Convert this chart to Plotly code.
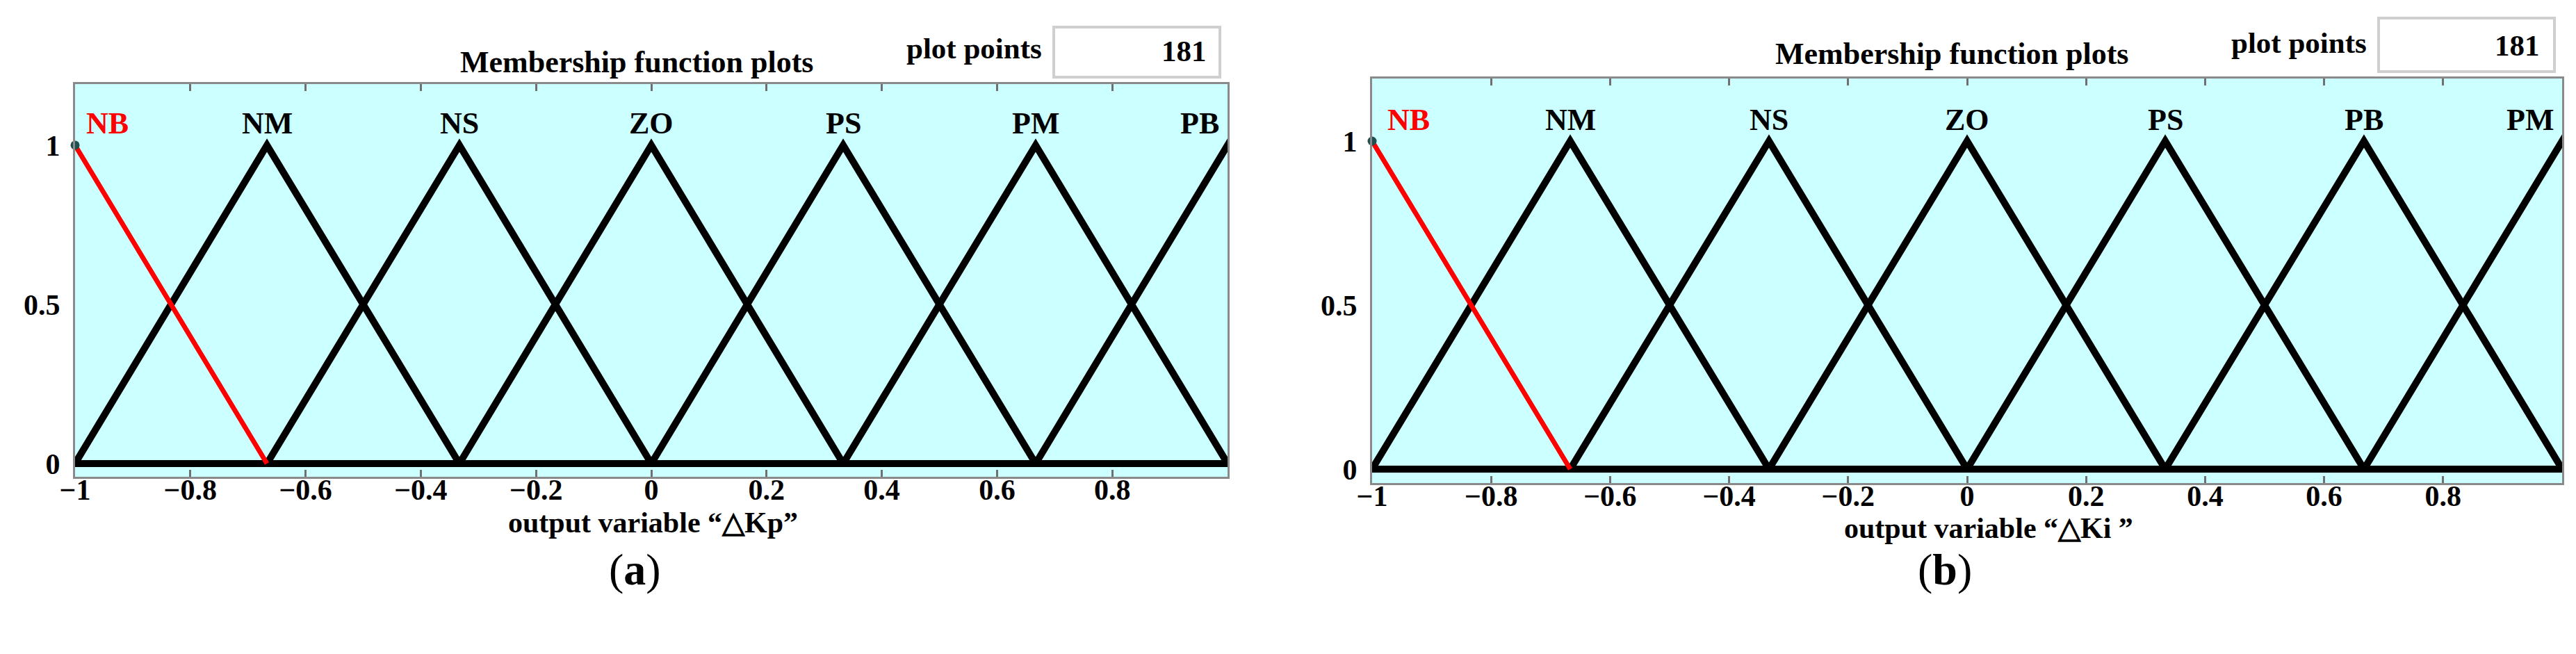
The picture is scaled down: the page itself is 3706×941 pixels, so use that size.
import plotly.graph_objects as go

W, H = 3706, 941

# trimf parameters [a, b, c] for the seven output membership functions
MF_PARAMS = [
    [-1.333, -1.0, -0.667],
    [-1.0, -0.667, -0.333],
    [-0.667, -0.333, 0.0],
    [-0.333, 0.0, 0.333],
    [0.0, 0.333, 0.667],
    [0.333, 0.667, 1.0],
    [0.667, 1.0, 1.333],
]
LABELS_KP = ["NB", "NM", "NS", "ZO", "PS", "PM", "PB"]
LABELS_KI = ["NB", "NM", "NS", "ZO", "PS", "PB", "PM"]
X_RANGE = [-1, 1]
X_TICKS = [-1, -0.8, -0.6, -0.4, -0.2, 0, 0.2, 0.4, 0.6, 0.8]
Y_TICKS = [0, 0.5, 1]
Y_TICKTEXT = ["0", "0.5", "1"]
PLOT_POINTS = 181

FONT = "Liberation Serif, Times New Roman, serif"
BG_CYAN = "#CCFFFF"
RED = "#FF0000"


def px(x):
    return x / W


def py(y):
    return 1 - y / H


def trimf_points(a, b, c):
    xs = sorted(set([X_RANGE[0], a, b, c, X_RANGE[1]]))
    ys = [max(min((x - a) / (b - a), (c - x) / (c - b)), 0.0) for x in xs]
    return xs, ys


# panel layout (pixel positions in the 3706x941 page)
PANELS = [
    dict(labels=LABELS_KP, xtitle="output variable “△Kp”", caption="(<b>a</b>)",
         left=100, right=1758, top=113, bottom=678, yrange=[-0.0415, 1.192],
         title_xy=(908, 82), pp_xy=(1393, 62), box=(1508, 31, 1747, 103), num_xy=(1730, 66),
         xtitle_xy=(931, 744), cap_xy=(905, 811), nb_shift=14, last_shift=-10),
    dict(labels=LABELS_KI, xtitle="output variable “△Ki ”", caption="(<b>b</b>)",
         left=1966, right=3678, top=105, bottom=687, yrange=[-0.0424, 1.1907],
         title_xy=(2800, 70), pp_xy=(3299, 54), box=(3414, 18, 3667, 95), num_xy=(3648, 57),
         xtitle_xy=(2853, 752), cap_xy=(2790, 811), nb_shift=20, last_shift=-10),
]

fig = go.Figure()
annotations = []
shapes = []

for i, p in enumerate(PANELS):
    xa = "x" if i == 0 else "x2"
    ya = "y" if i == 0 else "y2"
    xkey = "xaxis" if i == 0 else "xaxis2"
    ykey = "yaxis" if i == 0 else "yaxis2"

    # black membership functions, drawn over the whole universe
    for (a, b, c) in MF_PARAMS[1:]:
        xs, ys = trimf_points(a, b, c)
        fig.add_trace(go.Scatter(x=xs, y=ys, mode="lines", xaxis=xa, yaxis=ya,
                                 line=dict(color="black", width=10), showlegend=False,
                                 hoverinfo="skip"))
    # selected (red) membership function
    a, b, c = MF_PARAMS[0]
    fig.add_trace(go.Scatter(x=[a, b, c], y=[0, 1, 0], mode="lines", xaxis=xa, yaxis=ya,
                             line=dict(color=RED, width=7), showlegend=False,
                             hoverinfo="skip"))
    fig.add_trace(go.Scatter(x=[b], y=[1], mode="markers", xaxis=xa, yaxis=ya,
                             marker=dict(color="#1f4f4f", size=13), showlegend=False,
                             hoverinfo="skip", cliponaxis=False))

    fig.layout[xkey] = dict(
        domain=[px(p["left"]), px(p["right"])], range=X_RANGE, anchor=ya,
        tickvals=X_TICKS, ticks="inside", ticklen=10, tickwidth=3, tickcolor="#707070",
        showline=True, linecolor="#8a8a8a", linewidth=3, mirror="ticks",
        showgrid=False, zeroline=False, ticklabelstandoff=-20, automargin=False,
        tickfont=dict(family=FONT, size=42, color="black", weight="bold"),
    )
    fig.layout[ykey] = dict(
        domain=[py(p["bottom"]), py(p["top"])], range=p["yrange"], anchor=xa,
        tickvals=Y_TICKS, ticktext=Y_TICKTEXT, ticks="",
        showline=True, linecolor="#8a8a8a", linewidth=3, mirror=True,
        showgrid=False, zeroline=False, ticklabelstandoff=10, automargin=False,
        tickfont=dict(family=FONT, size=42, color="black", weight="bold"),
    )

    # membership function names above the peaks
    n = len(p["labels"])
    for k, (lab, prm) in enumerate(zip(p["labels"], MF_PARAMS)):
        peak = prm[1]
        if k == 0:
            xanchor, xshift = "left", p["nb_shift"]
        elif k == n - 1:
            xanchor, xshift = "right", p["last_shift"]
        else:
            xanchor, xshift = "center", 0
        annotations.append(dict(
            x=peak, y=1, xref=xa, yref=ya, text=lab, showarrow=False,
            xanchor=xanchor, yanchor="middle", xshift=xshift, yshift=31,
            font=dict(family=FONT, size=44, color=RED if k == 0 else "black", weight="bold"),
        ))

    # header texts and the plot-points box
    annotations.append(dict(
        x=px(p["title_xy"][0]), y=py(p["title_xy"][1]), xref="paper", yref="paper",
        text="Membership function plots", showarrow=False, xanchor="center", yanchor="middle",
        font=dict(family=FONT, size=44, color="black", weight="bold"),
    ))
    annotations.append(dict(
        x=px(p["pp_xy"][0]), y=py(p["pp_xy"][1]), xref="paper", yref="paper",
        text="plot points", showarrow=False, xanchor="center", yanchor="middle",
        font=dict(family=FONT, size=43, color="black", weight="bold"),
    ))
    x0, y0, x1, y1 = p["box"]
    shapes.append(dict(type="rect", xref="paper", yref="paper",
                       x0=px(x0), x1=px(x1), y0=py(y1), y1=py(y0),
                       fillcolor="white", line=dict(color="#cfcfcf", width=4), layer="above"))
    annotations.append(dict(
        x=px(p["num_xy"][0]), y=py(p["num_xy"][1]), xref="paper", yref="paper",
        text=str(PLOT_POINTS), showarrow=False, xanchor="right", yanchor="middle",
        font=dict(family=FONT, size=43, color="black", weight="bold"),
    ))
    # x-axis title and panel caption
    annotations.append(dict(
        x=px(p["xtitle_xy"][0]), y=py(p["xtitle_xy"][1]), xref="paper", yref="paper",
        text=p["xtitle"], showarrow=False, xanchor="center", yanchor="middle",
        font=dict(family=FONT, size=42, color="black", weight="bold"),
    ))
    annotations.append(dict(
        x=px(p["cap_xy"][0]), y=py(p["cap_xy"][1]), xref="paper", yref="paper",
        text=p["caption"], showarrow=False, xanchor="center", yanchor="middle",
        font=dict(family=FONT, size=64, color="black"),
    ))

fig.update_layout(
    width=W, height=H,
    margin=dict(l=0, r=0, t=0, b=0),
    paper_bgcolor="white",
    plot_bgcolor=BG_CYAN,
    annotations=annotations,
    shapes=shapes,
)

fig.write_html("out.html")
